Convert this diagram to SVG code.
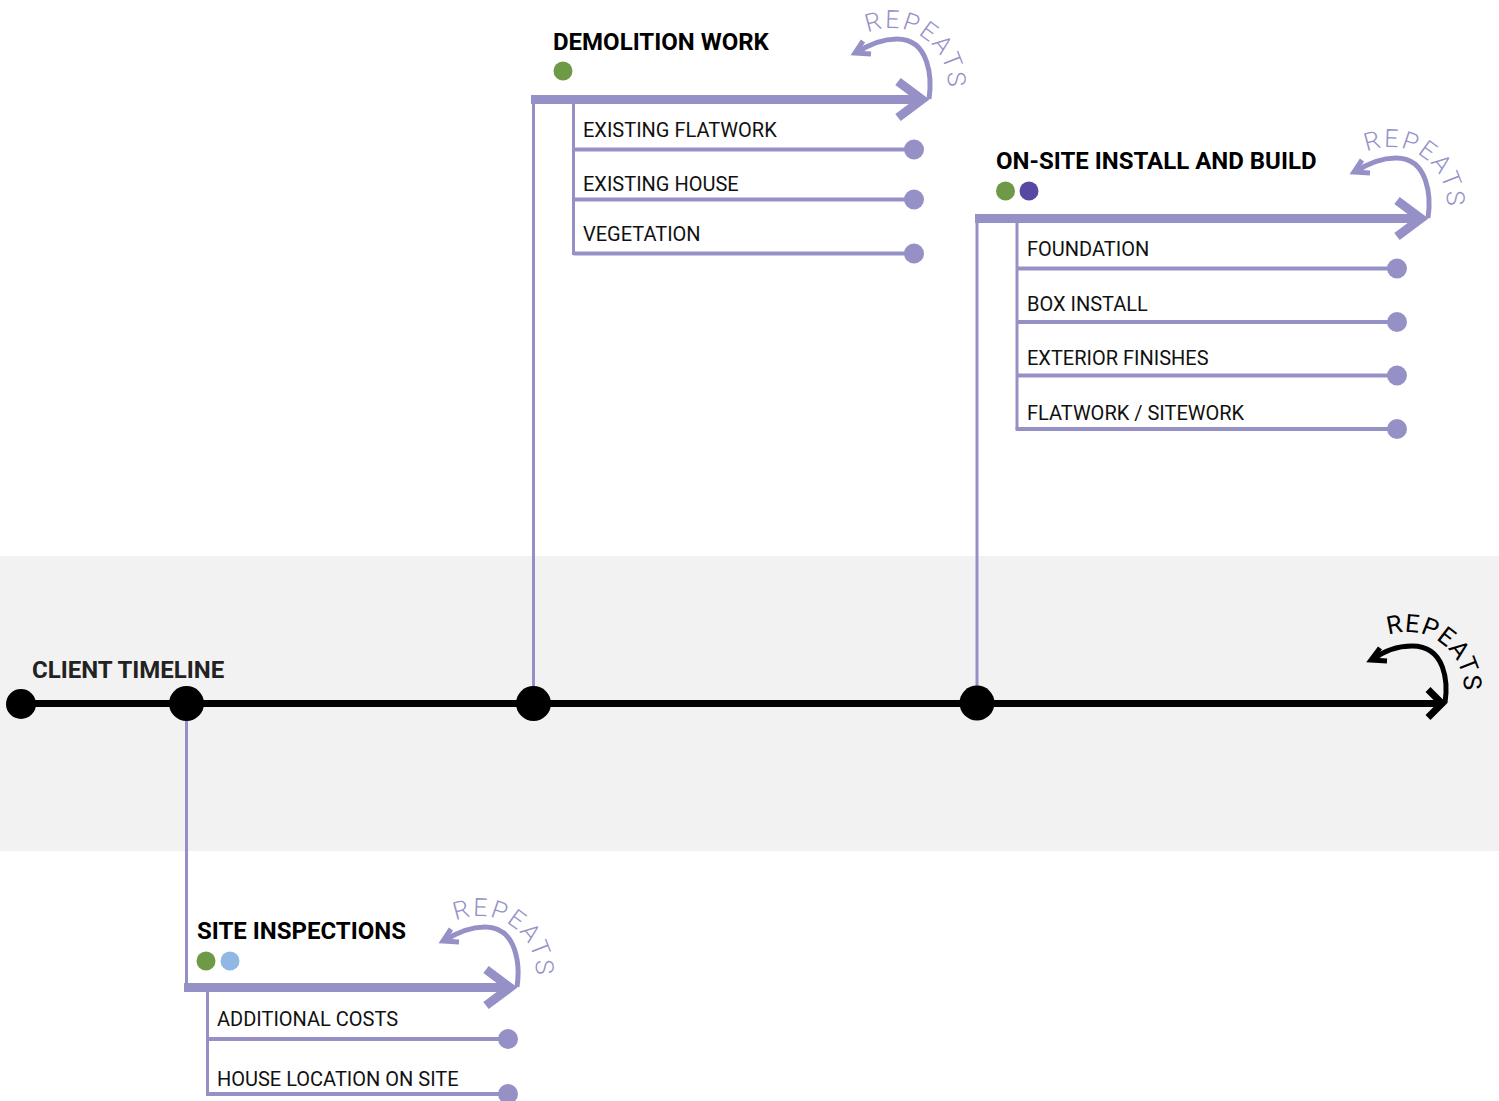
<svg xmlns="http://www.w3.org/2000/svg" width="1499" height="1101" viewBox="0 0 1499 1101">
<style>
.title{font-family:Roboto,"Liberation Sans",sans-serif;font-weight:700;font-size:24px;fill:#000}
.tl{font-family:Roboto,"Liberation Sans",sans-serif;font-weight:700;font-size:24px;fill:#222}
.item{font-family:Roboto,"Liberation Sans",sans-serif;font-size:20px;fill:#111}
.bar{stroke:#9591c7;stroke-width:9;fill:none}
.head{stroke:#9591c7;stroke-width:9;fill:none;stroke-linejoin:miter}
.iline{stroke:#9591c7;stroke-width:4;fill:none}
.vline{stroke:#9591c7;stroke-width:3;fill:none}
.idot{fill:#9591c7}
.rarc{fill:none;stroke-width:5}
.rhead{fill:none;stroke-width:5;stroke-linejoin:miter}
.rtext{font-family:Roboto,"Liberation Sans",sans-serif;font-size:25px;font-weight:300;letter-spacing:2px;stroke:none}
.lav{stroke:#9591c7;fill:#9591c7}
.blk{stroke:#000;fill:#000}
.green{fill:#6e9a48}
.purple{fill:#5549a2}
.blue{fill:#8fb8e4}
</style>
<defs>
<path id="repPath" d="M -61.2 -66.1 A 57 57 0 0 1 13.7 10.1"/>
</defs>
<rect x="0" y="556" width="1499" height="295" fill="#f2f2f2"/>

<g id="connectors">
<line class="vline" x1="533.5" y1="99" x2="533.5" y2="703"/>
<line class="vline" x1="977" y1="218" x2="977" y2="703"/>
<line class="vline" x1="186.5" y1="703" x2="186.5" y2="987"/>
</g>

<g id="timeline">
<text class="tl" x="32" y="677.5">CLIENT TIMELINE</text>
<line x1="21" y1="703.5" x2="1442" y2="703.5" stroke="#000" stroke-width="7"/>
<polyline points="1428,689.5 1442,703.5 1428,717.5" fill="none" stroke="#000" stroke-width="7"/>
<circle cx="21" cy="704" r="15"/>
<circle cx="186.5" cy="703.5" r="17.5"/>
<circle cx="533.5" cy="703.5" r="17.5"/>
<circle cx="977" cy="703" r="17.5"/>
<g transform="translate(1445,703)" class="blk">
<path class="rarc" d="M 0 0 C 3 -20 1 -57 -33 -57 C -50 -57 -64 -50 -73 -43"/>
<polyline class="rhead" fill="none" points="-65,-55 -74,-43 -58,-42"/>
<text class="rtext" style="font-weight:400;letter-spacing:1px" fill="#000"><textPath href="#repPath" startOffset="5">REPEATS</textPath></text>
</g>
</g>

<g id="demolition">
<text class="title" x="553" y="50">DEMOLITION WORK</text>
<circle class="green" cx="563" cy="71" r="9.5"/>
<line class="bar" x1="531" y1="99.5" x2="922" y2="99.5"/>
<polyline class="head" points="898,81.5 922,99.5 898,117.5"/>
<polyline class="vline" points="573.5,99 573.5,253.5 914,253.5"/>
<line class="iline" x1="573.5" y1="149.5" x2="914" y2="149.5"/>
<line class="iline" x1="573.5" y1="199.5" x2="914" y2="199.5"/>
<line class="iline" x1="573.5" y1="253.5" x2="914" y2="253.5"/>
<circle class="idot" cx="914" cy="149.5" r="10"/>
<circle class="idot" cx="914" cy="199.5" r="10"/>
<circle class="idot" cx="914" cy="253.5" r="10"/>
<text class="item" x="583" y="137">EXISTING FLATWORK</text>
<text class="item" x="583" y="191">EXISTING HOUSE</text>
<text class="item" x="583" y="240.5">VEGETATION</text>
<g transform="translate(929,99)" class="lav">
<path class="rarc" d="M 0 0 C 3 -20 1 -60 -32 -60 C -50 -60 -64 -52 -73 -46"/>
<polyline class="rhead" fill="none" points="-66,-58 -74,-46 -58,-45"/>
<text class="rtext"><textPath href="#repPath">REPEATS</textPath></text>
</g>
</g>

<g id="onsite">
<text class="title" x="996" y="169">ON-SITE INSTALL AND BUILD</text>
<circle class="green" cx="1005.5" cy="191" r="9.5"/>
<circle class="purple" cx="1029" cy="191" r="9.5"/>
<line class="bar" x1="975" y1="218.5" x2="1421" y2="218.5"/>
<polyline class="head" points="1397,200.5 1421,218.5 1397,236.5"/>
<line class="vline" x1="1017" y1="218" x2="1017" y2="429"/>
<line class="iline" x1="1017" y1="268.5" x2="1397" y2="268.5"/>
<line class="iline" x1="1017" y1="322" x2="1397" y2="322"/>
<line class="iline" x1="1017" y1="375.5" x2="1397" y2="375.5"/>
<line class="iline" x1="1015.5" y1="429" x2="1397" y2="429"/>
<circle class="idot" cx="1397" cy="268.5" r="10"/>
<circle class="idot" cx="1397" cy="322" r="10"/>
<circle class="idot" cx="1397" cy="375.5" r="10"/>
<circle class="idot" cx="1397" cy="429" r="10"/>
<text class="item" x="1027" y="256">FOUNDATION</text>
<text class="item" x="1027" y="311">BOX INSTALL</text>
<text class="item" x="1027" y="365">EXTERIOR FINISHES</text>
<text class="item" x="1027" y="419.5">FLATWORK / SITEWORK</text>
<g transform="translate(1428,218)" class="lav">
<path class="rarc" d="M 0 0 C 3 -20 1 -60 -32 -60 C -50 -60 -64 -52 -73 -46"/>
<polyline class="rhead" fill="none" points="-66,-58 -74,-46 -58,-45"/>
<text class="rtext"><textPath href="#repPath">REPEATS</textPath></text>
</g>
</g>

<g id="siteinspections">
<text class="title" x="197" y="938.5">SITE INSPECTIONS</text>
<circle class="green" cx="206" cy="961" r="9.5"/>
<circle class="blue" cx="230" cy="961" r="9.5"/>
<line class="bar" x1="184" y1="987.5" x2="510" y2="987.5"/>
<polyline class="head" points="486,969.5 510,987.5 486,1005.5"/>
<line class="vline" x1="207.5" y1="987" x2="207.5" y2="1094"/>
<line class="iline" x1="207.5" y1="1039" x2="508" y2="1039"/>
<line class="iline" x1="206" y1="1094" x2="508" y2="1094"/>
<circle class="idot" cx="508" cy="1039" r="10"/>
<circle class="idot" cx="508" cy="1094" r="10"/>
<text class="item" x="217" y="1026">ADDITIONAL COSTS</text>
<text class="item" x="217" y="1085.5">HOUSE LOCATION ON SITE</text>
<g transform="translate(517,987)" class="lav">
<path class="rarc" d="M 0 0 C 3 -20 1 -60 -32 -60 C -50 -60 -64 -52 -73 -46"/>
<polyline class="rhead" fill="none" points="-66,-58 -74,-46 -58,-45"/>
<text class="rtext"><textPath href="#repPath">REPEATS</textPath></text>
</g>
</g>
</svg>
